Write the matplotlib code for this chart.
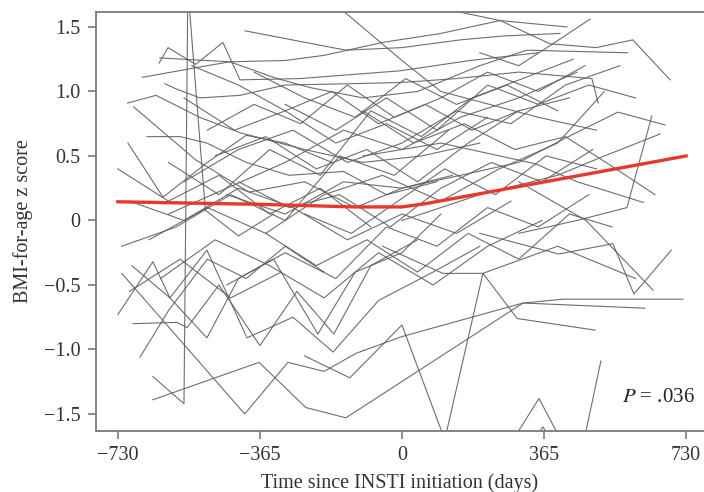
import matplotlib
matplotlib.use("Agg")
import matplotlib.pyplot as plt

# individual trajectories: days since INSTI start / BMI-for-age z score
subject_days = [
    [-640, -560, -550, -505, -420, -330],
    [-640, -367, -247, -144, 311, 414, 722],
    [-720, -404, -293, -200, -118, 0, 311, 624],
    [-250, -134, 0, 110, 208, 296, 496],
    [223, 352, 461],
    [345, 362, 379],
    [447, 511],
    [-730, -640, -596, -501, -398, -280, -177, -60, 80, 200],
    [-691, -578, -552, -470, -365, -270, -175, -80, 40],
    [-673, -600, -500, -400, -300, -200],
    [-694, -596, -501, -420, -330, -216, -120, 0, 100],
    [-624, -601, -530, -460, -416, -262, -5, 175, 350],
    [-666, -519, -442, -300, -200, -50, 100, 252, 424],
    [-403, -144, 0, 150, 260, 406],
    [-200, 0, 100, 200, 350, 500],
    [-705, -632, -520, -416, -250, -100, 50, 200],
    [-689, -530, -393, -250, -120, 0, 130],
    [-704, -650, -614, -500, -400, -300, -180],
    [-655, -570, -501, -400, -290, -150, -40, 90],
    [-609, -580, -519, -416, -300, -134, 0, 140, 300, 488, 504],
    [-622, -442, -321, -236, -100, 40, 200, 321, 580],
    [141, 252, 380, 499, 593, 689],
    [200, 300, 388, 483],
    [-450, -300, -150, 0, 150, 300, 421, 555, 676],
    [300, 450, 578, 642],
    [-100, 100, 342, 450, 620],
    [0, 200, 400, 520, 663],
    [200, 403, 542, 596, 692],
    [300, 473, 645],
    [-50, 105, 208, 400, 600],
    [-600, -450, -300, -150, 0, 150, 300, 450],
    [-560, -420, -280, -140, 0, 140, 280, 420, 560],
    [-700, -560, -420, -280, -140, 0, 140, 280],
    [-650, -500, -350, -200, -50, 100, 250, 400, 520],
    [-720, -580, -440, -300, -160, -20, 120],
    [-600, -470, -340, -210, -80, 50, 180, 310, 440],
    [-500, -380, -260, -140, -20, 100, 220, 350, 470],
    [-450, -300, -170, -40, 90, 220, 350, 480],
    [-350, -220, -90, 40, 170, 300, 430, 540],
    [-620, -480, -340, -200, -60, 80, 220, 360],
    [-540, -420, -300, -180, -60, 60, 180, 300],
    [-420, -290, -160, -30, 100, 230, 360, 490],
    [-250, -130, -10, 110, 240, 370, 500],
    [-730, -600, -470, -340, -210, -80],
    [-100, 30, 160, 290, 420, 550, 650],
    [-380, -250, -120, 10, 140, 270, 400],
    [-560, -430, -300, -170, -40, 90, 220],
    [-480, -350, -220, -90, 40, 170, 300, 430],
    [-300, -170, -40, 90, 220, 350, 480, 600],
    [-700, -570, -440, -310],
]
subject_z = [
    [-1.21, -1.42, 1.80, 0.08, -0.12, 0.05],
    [-1.39, -1.10, -1.45, -1.53, -0.64, -0.61, -0.61],
    [-0.41, -1.50, -1.10, -1.17, -1.03, -0.90, -0.64, -0.68],
    [-1.05, -1.22, -0.81, -1.70, -0.41, -0.76, -0.85],
    [-2.0, -1.38, -2.0],
    [-1.68, -1.60, -1.68],
    [-2.0, -1.09],
    [-0.73, -0.32, -0.60, -0.23, -0.91, -0.75, -1.02, -0.62, -0.40, -0.20],
    [-0.80, -0.79, -0.83, -0.50, -0.97, -0.55, -0.88, -0.35, -0.15],
    [-1.06, -0.70, -0.30, -0.45, -0.20, -0.40],
    [-0.35, -0.60, -0.91, -0.45, -0.30, -0.88, -0.40, -0.25, 0.05],
    [1.22, 1.34, 1.21, 1.38, 1.09, 1.10, 1.16, 1.24, 1.30],
    [1.11, 1.19, 1.23, 1.24, 1.28, 1.38, 1.45, 1.55, 1.50],
    [1.47, 1.32, 1.34, 1.40, 1.43, 1.45],
    [1.75, 1.24, 1.00, 0.92, 0.80, 0.70],
    [0.91, 0.97, 0.80, 0.68, 0.55, 0.45, 0.50, 0.60],
    [0.88, 0.47, 0.22, 0.30, 0.10, 0.25, 0.35],
    [0.60, 0.35, 0.18, 0.45, 0.66, 0.60, 0.45],
    [0.65, 0.65, 0.60, 0.45, 0.35, 0.38, 0.20, 0.30],
    [1.06, 1.02, 0.95, 0.97, 1.05, 1.06, 1.07, 1.10, 1.15, 1.10, 0.91],
    [1.26, 1.23, 1.10, 1.03, 0.95, 1.00, 1.20, 1.32, 1.30],
    [1.62, 1.55, 1.37, 1.34, 1.40, 1.09],
    [1.30, 1.20, 1.37, 1.56],
    [0.20, 0.05, 0.30, 0.25, 0.35, 0.45, 0.64, 0.84, 0.74],
    [-0.10, 0.00, 0.10, 0.81],
    [0.50, 0.60, 0.44, 0.30, 0.14],
    [0.00, 0.20, 0.35, 0.50, 0.67],
    [-0.10, -0.26, -0.18, -0.57, -0.23],
    [0.30, 0.00, -0.54],
    [-0.20, -0.41, -0.41, -0.20, -0.45],
    [0.05, 0.25, 0.45, 0.70, 0.55, 0.80, 0.95, 1.15],
    [0.30, 0.55, 0.70, 0.45, 0.60, 0.85, 0.75, 1.05, 1.20],
    [0.15, 0.00, 0.25, 0.10, -0.15, 0.05, -0.10, 0.15],
    [-0.15, 0.10, -0.10, 0.20, 0.35, 0.15, 0.40, 0.60, 1.00],
    [-0.20, -0.05, 0.20, 0.00, 0.50, 0.35, 0.70],
    [0.45, 0.20, 0.55, 0.35, 0.85, 0.65, 0.95, 1.10, 1.25],
    [0.70, 0.90, 0.75, 1.05, 0.80, 0.95, 1.15, 1.00, 1.20],
    [-0.50, -0.25, -0.45, -0.05, -0.20, 0.10, -0.05, 0.20],
    [-0.10, -0.35, -0.15, -0.40, -0.10, -0.30, 0.05, -0.05],
    [-0.45, -0.15, -0.35, -0.60, -0.25, -0.50, -0.20, 0.00],
    [1.20, 1.05, 0.85, 1.00, 0.75, 0.90, 0.70, 0.85],
    [0.30, 0.10, 0.20, -0.05, 0.25, 0.45, 0.30, 0.55],
    [0.05, -0.10, 0.15, 0.40, 0.20, 0.50, 0.40],
    [0.40, 0.15, 0.35, 0.05, 0.25, -0.05],
    [0.85, 0.60, 0.75, 0.55, 0.65, 0.40, 0.20],
    [1.15, 0.95, 0.80, 1.10, 0.90, 1.05, 0.85],
    [0.95, 0.70, 0.85, 0.60, 0.75, 0.55, 0.80],
    [0.50, 0.65, 0.40, 0.55, 0.30, 0.60, 0.85, 0.95],
    [0.90, 0.70, 0.95, 0.70, 1.05, 0.90, 1.05, 0.95],
    [-0.55, -0.30, -0.60, -0.40],
]

# population-average fit (red)
fit_days = [-730, -365, -120, 0, 60, 730]
fit_z = [0.145, 0.125, 0.105, 0.105, 0.13, 0.50]

x_ticks = [-730, -365, 0, 365, 730]
x_labels = ["\u2212730", "\u2212365", "0", "365", "730"]
y_ticks = [1.5, 1.0, 0.5, 0, -0.5, -1.0, -1.5]
y_labels = ["1.5", "1.0", "0.5", "0", "\u22120.5", "\u22121.0", "\u22121.5"]

plt.rcParams["font.family"] = ["Liberation Serif", "DejaVu Serif"]

fig = plt.figure(figsize=(7.04, 4.92), dpi=100)
ax = fig.add_axes([96 / 704, 61 / 492, 1 - 96 / 704, 419 / 492])

for d, z in zip(subject_days, subject_z):
    ax.plot(d, z, color="#5e5e5e", lw=0.8, alpha=0.9, zorder=2)
ax.plot(fit_days, fit_z, color="#e8382d", lw=2.4, zorder=3)

ax.set_xlim(-786, 776)
ax.set_ylim(-1.632, 1.616)
ax.set_xticks(x_ticks)
ax.set_xticklabels(x_labels)
ax.set_yticks(y_ticks)
ax.set_yticklabels(y_labels)

for side in ("left", "bottom", "top"):
    ax.spines[side].set_color("#7a7a7a")
    ax.spines[side].set_linewidth(1.3)
ax.spines["right"].set_visible(False)
ax.tick_params(direction="out", length=6, width=1.2, color="#7a7a7a",
               labelsize=14.5, labelcolor="#333333", pad=5)

ax.set_xlabel("Time since INSTI initiation (days)", fontsize=14.5,
              color="#333333", labelpad=6)
ax.set_ylabel("BMI-for-age z score", fontsize=14.5, color="#333333",
              labelpad=8)

ax.text(752, -1.37, "$P$ = .036", ha="right", va="center", fontsize=15,
        color="#222222", math_fontfamily="stix")

fig.savefig("out.png", dpi=100)
